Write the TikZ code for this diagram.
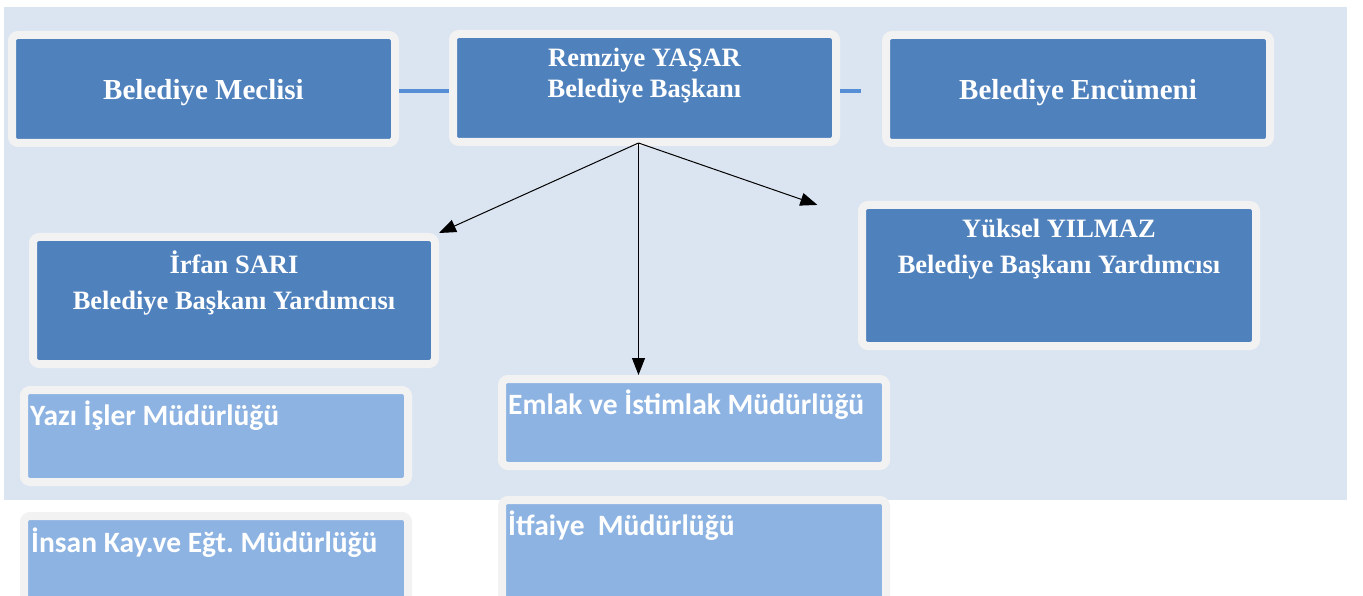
\documentclass[tikz,border=0pt]{standalone}
\usepackage{fontspec}
\setmainfont{Liberation Serif}
\newfontfamily\unitfont{Carlito}
\usetikzlibrary{arrows.meta,positioning}

\definecolor{panelblue}{HTML}{DBE5F1}
\definecolor{rimgray}{HTML}{F2F2F2}
\definecolor{headblue}{HTML}{4F81BD}
\definecolor{unitblue}{HTML}{8DB3E2}
\definecolor{linkblue}{HTML}{558ED5}

\tikzset{
    box/.style={draw=rimgray, line width=8pt, rounded corners=6pt, inner sep=0pt},
    headbox/.style={box, fill=headblue},
    unitbox/.style={box, fill=unitblue, minimum width=384pt},
    bigtext/.style={text=white, font=\bfseries\fontsize{29}{34}\selectfont, text depth=0pt},
    headtext/.style={text=white, font=\bfseries\fontsize{26.5}{35.5}\selectfont,
        align=center, inner sep=0pt, anchor=north},
    unittext/.style={text=white, font=\unitfont\bfseries\fontsize{29.5}{35}\selectfont,
        inner sep=0pt, anchor=base west},
    link/.style={linkblue, line width=4pt},
    report/.style={-{Triangle[length=17pt,width=13pt]}, line width=1pt}
}

\begin{document}
\begin{tikzpicture}[x=1pt, y=-1pt]

% Page frame and shaded panel.
\clip (0,0) rectangle (1363,596);
\fill[panelblue] (4,7) rectangle (1347,500);

% Top row: council, mayor, committee.
\node[headbox, bigtext, minimum width=383pt, minimum height=108pt]
    (meclis) at (203.5,89) {Belediye Meclisi};
\node[headbox, minimum width=383pt, minimum height=108pt]
    (baskan) at (644.5,88) {};
\node[headbox, bigtext, minimum width=384pt, minimum height=108pt]
    (encumen) at (1078,89) {Belediye Encümeni};

% Deputy mayors.
\node[headbox, minimum width=402pt, minimum height=127pt]
    (irfan) at (234,300.5) {};
\node[headbox, minimum width=394pt, minimum height=141pt]
    (yuksel) at (1059,275.5) {};

% Directorates.
\node[unitbox, minimum height=92pt] (yazi) at (216,436) {};
\node[unitbox, minimum height=100pt] (insan) at (216,566) {};
\node[unitbox, minimum height=87pt] (emlak) at (694,422.5) {};
\node[unitbox, minimum height=110pt] (itfaiye) at (694,555) {};

% Texts of the boxes.
\node[headtext, font=\bfseries\fontsize{26.5}{31}\selectfont]
    (baskan-t) at ([yshift=-18pt]baskan.north)
    {Remziye YAŞAR\\Belediye Başkanı};
\node[headtext] (irfan-t) at ([yshift=-18pt]irfan.north)
    {İrfan SARI\\Belediye Başkanı Yardımcısı};
\node[headtext] (yuksel-t) at ([yshift=-18pt]yuksel.north)
    {Yüksel YILMAZ\\Belediye Başkanı Yardımcısı};

\node[unittext] (yazi-t) at ([xshift=10pt,yshift=-39pt]yazi.north west)
    {Yazı İşler Müdürlüğü};
\node[unittext] (insan-t) at ([xshift=11pt,yshift=-40pt]insan.north west)
    {İnsan Kay.ve Eğt.\ Müdürlüğü};
\node[unittext] (emlak-t) at ([xshift=10pt,yshift=-39pt]emlak.north west)
    {Emlak ve İstimlak Müdürlüğü};
\node[unittext] (itfaiye-t) at ([xshift=10pt,yshift=-39pt]itfaiye.north west)
    {İtfaiye\ \ Müdürlüğü};

% Blue links on the top row.
\draw[link] ([yshift=-2pt]meclis.east) -- ([yshift=-3pt]baskan.west);
\draw[link, shorten >=21pt] ([yshift=-3pt]baskan.east) -- ([yshift=-2pt]encumen.west);

% Arrows down from the mayor.
\coordinate (fork) at ([xshift=-6pt,yshift=3pt]baskan.south);
\draw[report] (fork) -- (irfan.north east);
\draw[report, shorten >=43pt] (fork) -- ([yshift=-18pt]yuksel.north west);
\draw[report] (fork) -- (fork |- emlak.north);

\end{tikzpicture}
\end{document}
